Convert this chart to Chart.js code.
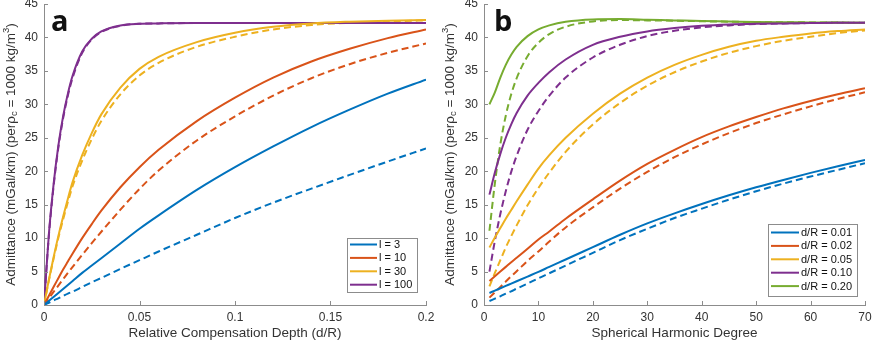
<!DOCTYPE html>
<html>
<head>
<meta charset="utf-8">
<script src="https://cdn.jsdelivr.net/npm/chart.js@4.4.1/dist/chart.umd.min.js"></script>
<style>
  html, body { margin: 0; padding: 0; background: #fff; }
  #wrap { position: relative; width: 872px; height: 341px; }
  .panel { position: absolute; top: 0; width: 436px; height: 341px; }
</style>
</head>
<body>
<div id="wrap">
  <div class="panel" style="left:0"><canvas id="chartA" width="436" height="341"></canvas></div>
  <div class="panel" style="left:436px"><canvas id="chartB" width="436" height="341"></canvas></div>
</div>
<script>
// ---- panel a : admittance vs relative compensation depth (d/R) ----
const depthA = [0, 0.0025, 0.005, 0.0075, 0.01, 0.0125, 0.015, 0.02, 0.025, 0.03, 0.04, 0.05, 0.06, 0.08, 0.1, 0.12, 0.14, 0.16, 0.18, 0.2];
const l3  = [0, 0.6, 1.2, 1.8, 2.4, 3.0, 3.6, 4.8, 5.9, 7.0, 9.2, 11.4, 13.4, 17.2, 20.6, 23.7, 26.6, 29.2, 31.6, 33.7];
const l3d = [0, 0.34, 0.68, 1.0, 1.35, 1.7, 2.0, 2.7, 3.4, 4.05, 5.4, 6.7, 8.0, 10.5, 13.0, 15.3, 17.4, 19.45, 21.45, 23.4];
const l10  = [0, 1.35, 2.7, 4.0, 5.3, 6.5, 7.7, 10.0, 12.1, 14.1, 17.6, 20.6, 23.2, 27.5, 31.0, 34.0, 36.4, 38.3, 39.9, 41.2];
const l10d = [0, 0.98, 1.95, 2.9, 3.85, 4.8, 5.7, 7.5, 9.25, 10.95, 14.25, 17.35, 20.1, 24.6, 28.2, 31.3, 33.9, 36.0, 37.7, 39.1];
const l30  = [0, 3.7, 7.1, 10.3, 13.2, 15.9, 18.4, 22.4, 25.7, 28.5, 32.5, 35.3, 37.1, 39.3, 40.7, 41.6, 42.1, 42.35, 42.5, 42.6];
const l30d = [0, 3.6, 6.9, 10.0, 12.8, 15.4, 17.8, 21.6, 24.8, 27.5, 31.5, 34.3, 36.2, 38.6, 40.1, 41.2, 41.85, 42.2, 42.4, 42.55];
const l100  = [0, 10.4, 18.0, 23.8, 28.2, 31.6, 34.3, 37.9, 39.8, 40.9, 41.8, 42.05, 42.1, 42.15, 42.15, 42.15, 42.15, 42.15, 42.15, 42.15];
const l100d = [0, 10.2, 17.7, 23.5, 27.9, 31.3, 34.0, 37.7, 39.7, 40.8, 41.75, 42.05, 42.1, 42.15, 42.15, 42.15, 42.15, 42.15, 42.15, 42.15];
const xTicksA = [0, 0.05, 0.1, 0.15, 0.2];

// ---- panel b : admittance vs spherical harmonic degree ----
const degB = [1, 2, 3, 4, 5, 6, 8, 10, 12, 15, 20, 25, 30, 35, 40, 45, 50, 55, 60, 65, 70];
const r01  = [1.8, 2.15, 2.5, 2.85, 3.2, 3.55, 4.25, 4.95, 5.7, 6.8, 8.65, 10.5, 12.2, 13.7, 15.1, 16.4, 17.6, 18.7, 19.75, 20.75, 21.7];
const r01d = [0.6, 0.95, 1.3, 1.7, 2.05, 2.45, 3.2, 4.0, 4.75, 5.9, 7.8, 9.7, 11.4, 13.0, 14.4, 15.75, 17.0, 18.15, 19.2, 20.2, 21.2];
const r02  = [3.6, 4.3, 5.0, 5.7, 6.4, 7.05, 8.4, 9.8, 11.0, 12.9, 15.8, 18.6, 21.1, 23.2, 25.1, 26.7, 28.1, 29.4, 30.5, 31.5, 32.4];
const r02d = [1.1, 1.9, 2.7, 3.5, 4.3, 5.05, 6.6, 8.0, 9.5, 11.6, 14.6, 17.4, 19.9, 22.1, 24.0, 25.7, 27.2, 28.5, 29.7, 30.8, 31.8];
const r05  = [8.6, 10.1, 11.5, 12.9, 14.2, 15.5, 18.0, 20.4, 22.4, 25.0, 28.6, 31.6, 34.0, 35.9, 37.4, 38.6, 39.5, 40.1, 40.6, 40.95, 41.2];
const r05d = [2.8, 4.8, 6.7, 8.6, 10.3, 11.9, 14.9, 17.5, 19.8, 22.9, 27.0, 30.2, 32.8, 34.8, 36.4, 37.7, 38.7, 39.5, 40.1, 40.65, 41.05];
const r10  = [16.5, 19.8, 22.6, 25.0, 27.0, 28.7, 31.3, 33.2, 34.8, 36.7, 38.9, 40.1, 40.9, 41.4, 41.75, 41.95, 42.05, 42.1, 42.15, 42.2, 42.2];
const r10d = [5.0, 9.6, 13.6, 17.0, 19.9, 22.3, 26.2, 29.0, 31.3, 34.0, 37.0, 38.9, 40.2, 41.0, 41.5, 41.8, 42.0, 42.1, 42.15, 42.2, 42.2];
const r20  = [30.0, 31.8, 34.0, 35.9, 37.4, 38.6, 40.2, 41.2, 41.8, 42.35, 42.7, 42.75, 42.65, 42.55, 42.45, 42.38, 42.3, 42.27, 42.25, 42.22, 42.2];
const r20d = [11.1, 18.2, 24.0, 28.3, 31.5, 33.9, 37.2, 39.2, 40.5, 41.6, 42.4, 42.6, 42.55, 42.5, 42.42, 42.35, 42.3, 42.27, 42.25, 42.22, 42.2];
const xTicksB = [0, 10, 20, 30, 40, 50, 60, 70];

const yTicks = [0, 5, 10, 15, 20, 25, 30, 35, 40, 45];

const BLUE = '#0072BD', ORANGE = '#D95319', YELLOW = '#EDB120', PURPLE = '#7E2F8E', GREEN = '#77AC30';
const AXIS = '#8c8c8c';
const TEXT = '#333333';
const FONT = '"Liberation Sans", Arial, sans-serif';

function pts(xs, ys) {
  return xs.map((x, i) => ({x: x, y: ys[i]}));
}

function line(label, xs, ys, color, dashed) {
  return {
    label: label,
    data: pts(xs, ys),
    borderColor: color,
    backgroundColor: color,
    borderWidth: 2,
    borderDash: dashed ? [7, 4] : [],
    pointRadius: 0,
    fill: false,
    cubicInterpolationMode: 'monotone',
    inLegend: !dashed
  };
}

// inward ticks, y title with sub/superscript, panel letter, boxed legend
function decor(cfg) {
  return {
    id: 'decor',
    afterDatasetsDraw(chart) {
      const ctx = chart.ctx;
      const xs = chart.scales.x, ys = chart.scales.y;
      const area = chart.chartArea;
      ctx.save();

      ctx.strokeStyle = AXIS;
      ctx.lineWidth = 1;
      ctx.beginPath();
      xs.ticks.forEach(t => {
        const px = Math.round(xs.getPixelForValue(t.value)) + 0.5;
        ctx.moveTo(px, area.bottom);
        ctx.lineTo(px, area.bottom - 4);
      });
      ys.ticks.forEach(t => {
        const py = Math.round(ys.getPixelForValue(t.value)) + 0.5;
        ctx.moveTo(area.left, py);
        ctx.lineTo(area.left + 4, py);
      });
      ctx.stroke();

      // y axis title
      const parts = [
        ['Admittance (mGal/km) (per', 0, 13.5],
        ['\u03C1', 0, 13.5],
        ['c', 3.5, 9.5],
        [' = 1000 kg/m', 0, 13.5],
        ['3', -5, 9.5],
        [')', 0, 13.5]
      ];
      let total = 0;
      parts.forEach(p => { ctx.font = p[2] + 'px ' + FONT; total += ctx.measureText(p[0]).width; });
      ctx.translate(cfg.yTitleX, (area.top + area.bottom) / 2);
      ctx.rotate(-Math.PI / 2);
      ctx.fillStyle = TEXT;
      ctx.textBaseline = 'middle';
      ctx.textAlign = 'left';
      let cx = -total / 2;
      parts.forEach(p => {
        ctx.font = p[2] + 'px ' + FONT;
        ctx.fillText(p[0], cx, p[1]);
        cx += ctx.measureText(p[0]).width;
      });
      ctx.restore();

      // panel letter
      ctx.save();
      ctx.font = 'bold 29px "Open Sans", sans-serif';
      ctx.fillStyle = '#111';
      ctx.textBaseline = 'alphabetic';
      ctx.fillText(cfg.letter, cfg.letterX, 31);

      // legend
      const L = cfg.legend;
      ctx.fillStyle = '#fff';
      ctx.fillRect(L.x, L.y, L.w, L.h);
      ctx.strokeStyle = AXIS;
      ctx.lineWidth = 1;
      ctx.strokeRect(L.x + 0.5, L.y + 0.5, L.w, L.h);
      ctx.font = '11px ' + FONT;
      ctx.textBaseline = 'middle';
      chart.data.datasets.filter(d => d.inLegend).forEach((d, i) => {
        const ry = L.row0 + i * L.rowH;
        ctx.strokeStyle = d.borderColor;
        ctx.lineWidth = 2;
        ctx.beginPath();
        ctx.moveTo(L.x + 3, ry);
        ctx.lineTo(L.x + 3 + L.lineLen, ry);
        ctx.stroke();
        ctx.fillStyle = '#111';
        ctx.fillText(d.label, L.x + 5 + L.lineLen, ry + 0.5);
      });
      ctx.restore();
    }
  };
}

function makeChart(id, datasets, xMax, xTicks, xTitle, yWidth, padRight, cfg) {
  return new Chart(document.getElementById(id), {
    type: 'line',
    data: {datasets: datasets},
    options: {
      responsive: false,
      animation: false,
      devicePixelRatio: 1,
      layout: {padding: {left: 0, top: 4, right: padRight, bottom: 0}},
      plugins: {legend: {display: false}, tooltip: {enabled: false}},
      scales: {
        x: {
          type: 'linear',
          min: 0,
          max: xMax,
          afterBuildTicks: s => { s.ticks = xTicks.map(v => ({value: v})); },
          afterFit: s => { s.height = 36; s.paddingLeft = 0; s.paddingRight = 0; },
          grid: {display: false, drawTicks: false},
          border: {display: true, color: AXIS, width: 1},
          ticks: {color: TEXT, font: {size: 12, family: FONT}, padding: 5, maxRotation: 0, autoSkip: false,
                  callback: v => String(v)},
          title: {display: true, text: xTitle, color: TEXT, font: {size: 13.5, family: FONT}, padding: {top: 0, bottom: 0}}
        },
        y: {
          type: 'linear',
          min: 0,
          max: 45,
          afterBuildTicks: s => { s.ticks = yTicks.map(v => ({value: v})); },
          afterFit: s => { s.width = yWidth; s.paddingTop = 0; s.paddingBottom = 0; },
          grid: {display: false, drawTicks: false},
          border: {display: true, color: AXIS, width: 1},
          ticks: {color: TEXT, font: {size: 12, family: FONT}, padding: 6, autoSkip: false,
                  callback: v => String(v)}
        }
      }
    },
    plugins: [decor(cfg)]
  });
}

makeChart('chartA', [
  line('l = 3', depthA, l3, BLUE, false),
  line('l = 10', depthA, l10, ORANGE, false),
  line('l = 30', depthA, l30, YELLOW, false),
  line('l = 100', depthA, l100, PURPLE, false),
  line('l = 3 (dashed)', depthA, l3d, BLUE, true),
  line('l = 10 (dashed)', depthA, l10d, ORANGE, true),
  line('l = 30 (dashed)', depthA, l30d, YELLOW, true),
  line('l = 100 (dashed)', depthA, l100d, PURPLE, true)
], 0.2, xTicksA, 'Relative Compensation Depth (d/R)', 44, 10,
  {letter: 'a', letterX: 51, yTitleX: 11,
   legend: {x: 347, y: 238, w: 70, h: 54, row0: 244.5, rowH: 13.4, lineLen: 27}});

makeChart('chartB', [
  line('d/R = 0.01', degB, r01, BLUE, false),
  line('d/R = 0.02', degB, r02, ORANGE, false),
  line('d/R = 0.05', degB, r05, YELLOW, false),
  line('d/R = 0.10', degB, r10, PURPLE, false),
  line('d/R = 0.20', degB, r20, GREEN, false),
  line('d/R = 0.01 (dashed)', degB, r01d, BLUE, true),
  line('d/R = 0.02 (dashed)', degB, r02d, ORANGE, true),
  line('d/R = 0.05 (dashed)', degB, r05d, YELLOW, true),
  line('d/R = 0.10 (dashed)', degB, r10d, PURPLE, true),
  line('d/R = 0.20 (dashed)', degB, r20d, GREEN, true)
], 70, xTicksB, 'Spherical Harmonic Degree', 48, 7,
  {letter: 'b', letterX: 58, yTitleX: 14,
   legend: {x: 332, y: 224, w: 89, h: 72, row0: 232.5, rowH: 13.4, lineLen: 28}});
</script>
</body>
</html>
